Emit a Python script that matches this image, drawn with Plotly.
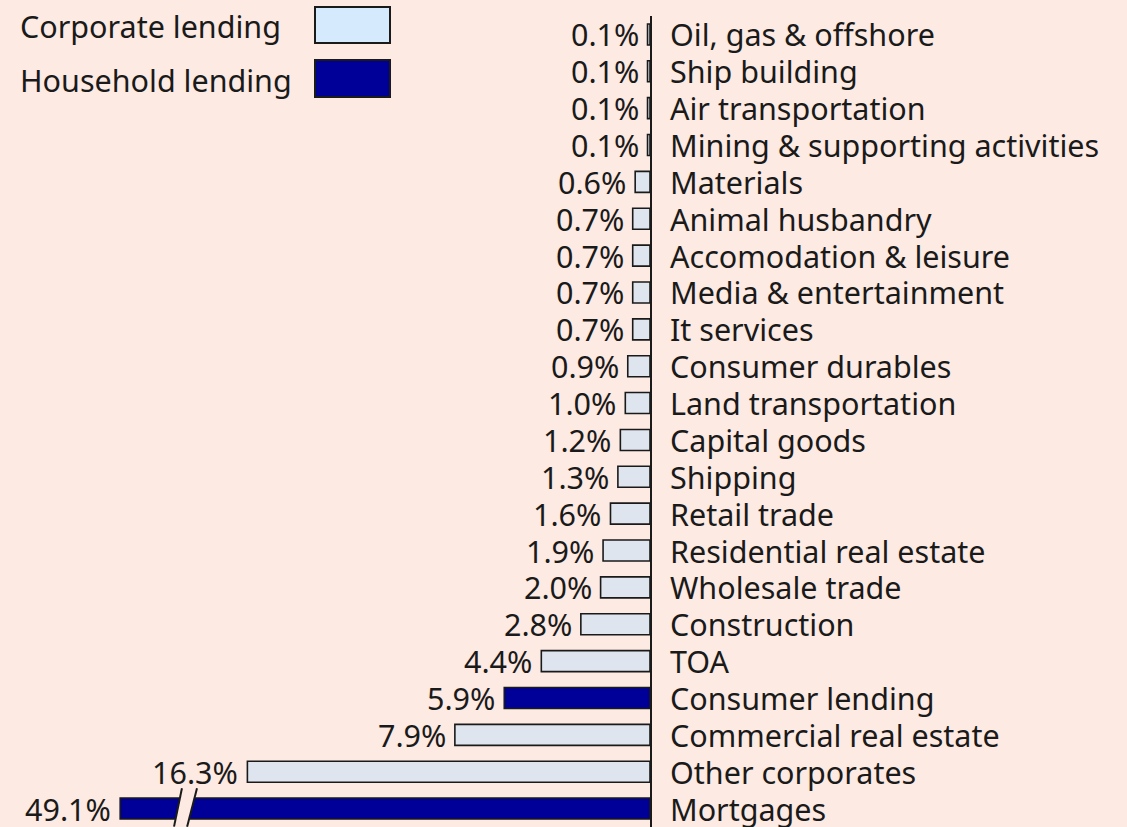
import plotly.graph_objects as go

categories = [
    "Oil, gas & offshore", "Ship building", "Air transportation",
    "Mining & supporting activities", "Materials", "Animal husbandry",
    "Accomodation & leisure", "Media & entertainment", "It services",
    "Consumer durables", "Land transportation", "Capital goods", "Shipping",
    "Retail trade", "Residential real estate", "Wholesale trade",
    "Construction", "TOA", "Consumer lending", "Commercial real estate",
    "Other corporates", "Mortgages",
]
values = [0.1, 0.1, 0.1, 0.1, 0.6, 0.7, 0.7, 0.7, 0.7, 0.9, 1.0, 1.2, 1.3,
          1.6, 1.9, 2.0, 2.8, 4.4, 5.9, 7.9, 16.3, 49.1]
groups = ["C"] * 18 + ["H", "C", "C", "H"]

# axis break: values beyond this are drawn truncated
BREAK_CAP = 21.45

BG = "#fdeae3"
CORP = "#dee5ef"
HOUSE = "#000099"
CORP_LEG = "#d6eafe"
INK = "#1a1a1a"
FONT = "Noto Sans"
FS = 30.5

W, H = 1127, 827
ML, MR, MT, MB = 0, 477, 16, 0
PW, PH = W - ML - MR, H - MT - MB


def px(x):
    return (x - ML) / PW


def py(y):
    return (H - MB - y) / PH


disp = [min(v, BREAK_CAP) for v in values]
colors = [CORP if g == "C" else HOUSE for g in groups]
n = len(categories)

fig = go.Figure()
fig.add_trace(go.Bar(
    y=categories, x=disp, orientation="h",
    marker=dict(color=colors, line=dict(color=INK, width=1.6)),
    width=0.57, hoverinfo="skip", showlegend=False,
))

annotations = []
for c, v, d in zip(categories, values, disp):
    # value label, left of bar end
    annotations.append(dict(
        x=d, y=c, xref="x", yref="y", text=f"{v:.1f}%", showarrow=False,
        xanchor="right", yanchor="middle", xshift=-7,
        font=dict(family=FONT, size=FS, color=INK),
    ))
    # category label, right of the axis
    annotations.append(dict(
        x=0, y=c, xref="x", yref="y", text=c, showarrow=False,
        xanchor="left", yanchor="middle", xshift=18,
        font=dict(family=FONT, size=FS, color=INK),
    ))

# legend
leg = [("Corporate lending", CORP_LEG, 26, 7, 43),
       ("Household lending", HOUSE, 80, 60, 97)]
shapes = []
for name, col, yc, y0, y1 in leg:
    annotations.append(dict(
        x=px(18), y=py(yc), xref="paper", yref="paper", text=name,
        showarrow=False, xanchor="left", yanchor="middle",
        font=dict(family=FONT, size=FS, color=INK),
    ))
    shapes.append(dict(
        type="rect", xref="paper", yref="paper",
        x0=px(315), x1=px(390), y0=py(y1), y1=py(y0),
        fillcolor=col, line=dict(color=INK, width=2),
    ))

# axis break marks on the mortgages bar
mi = categories.index("Mortgages")
yt, yb = mi - 0.55, mi + 0.49
b1t, b1b, b2t, b2b = 18.95, 19.27, 18.34, 18.74
shapes.append(dict(
    type="path", xref="x", yref="y",
    path=f"M {b1t},{yt} L {b2t},{yt} L {b2b},{yb} L {b1b},{yb} Z",
    fillcolor=BG, line=dict(width=0),
))
for a, b in [(b1t, b1b), (b2t, b2b)]:
    shapes.append(dict(
        type="line", xref="x", yref="y", x0=a, x1=b, y0=yt, y1=yb,
        line=dict(color=INK, width=2),
    ))

fig.update_layout(
    width=W, height=H,
    margin=dict(l=ML, r=MR, t=MT, b=MB, pad=0),
    paper_bgcolor=BG, plot_bgcolor=BG,
    bargap=0.43,
    annotations=annotations, shapes=shapes,
    font=dict(family=FONT, size=FS, color=INK),
)
fig.update_xaxes(range=[PW / 24.7, 0], visible=False, showgrid=False,
                 zeroline=False)
fig.update_yaxes(
    type="category", range=[n - 0.5, -0.5], side="right",
    showline=True, linecolor=INK, linewidth=2,
    showgrid=False, zeroline=False, ticks="", automargin=False,
    showticklabels=False,
)

fig.write_html(
    "out.html",
    config={"displayModeBar": False},
    post_script="document.body.style.margin='0';"
                "document.body.style.overflow='hidden';"
                f"document.body.style.background='{BG}';",
)
